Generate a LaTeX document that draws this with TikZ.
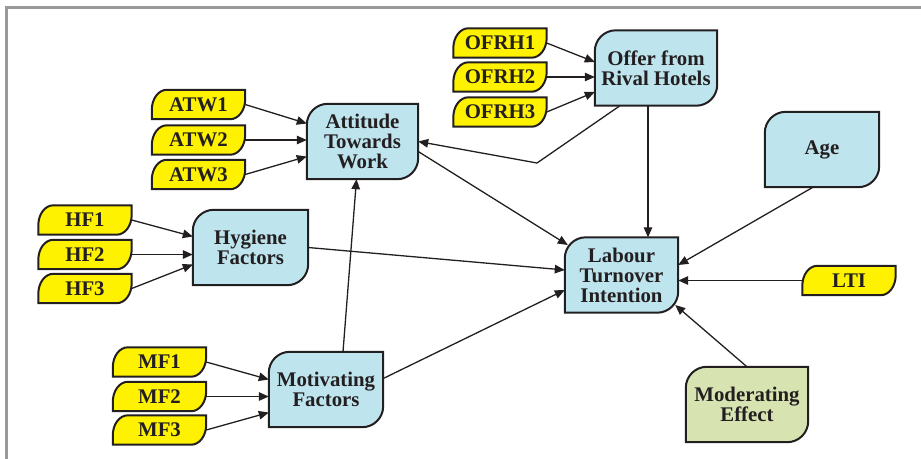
\documentclass[tikz,border=0pt]{standalone}
\usepackage{fontspec}
\setmainfont{Liberation Serif}
\usetikzlibrary{arrows.meta,backgrounds,calc}
\definecolor{txt}{HTML}{231F20}
\definecolor{blu}{HTML}{BEE4EE}
\definecolor{yel}{HTML}{FFF200}
\definecolor{grn}{HTML}{D7E4B1}
\definecolor{frm}{HTML}{999999}
\tikzset{
  base/.style={inner sep=0pt, align=center, text=txt,
    font=\fontsize{20.8}{20}\selectfont\bfseries},
  big/.style={base, minimum height=75pt, minimum width=#1},
  ind/.style={base, minimum height=29pt, minimum width=93pt},
  boxline/.style={draw=txt, line width=2pt},
  arr/.style={draw=txt, line width=1.3pt, -{Triangle[length=10pt,width=8.5pt]}},
  lin/.style={draw=txt, line width=1.3pt}
}
\begin{document}
\begin{tikzpicture}[x=1pt,y=-1pt]
\useasboundingbox (0,0) rectangle (921,458);
\draw[frm, line width=2.5pt] (6.5,460) -- (6.5,7.3) -- (923,7.3);

% latent constructs
\node[big=122pt] (offer) at (656,68) {Offer from\\Rival Hotels};
\node[big=111pt] (attitude) at (362.5,141.5) {Attitude\\Towards\\Work};
\node[big=115pt] (hygiene) at (250.5,247.5) {Hygiene\\Factors};
\node[big=114pt] (motivating) at (326,389.5) {Motivating\\Factors};
\node[big=113pt] (labour) at (621.5,275) {Labour\\Turnover\\Intention};
\node[big=114pt] (age) at (822,149.5) {Age};
\node[big=122pt] (moderating) at (747,404.5) {Moderating\\Effect};

% indicators
\node[ind] (ofrh1) at (500,43) {OFRH1};
\node[ind] (ofrh2) at (500,77) {OFRH2};
\node[ind] (ofrh3) at (500,112) {OFRH3};
\node[ind] (atw1) at (198.5,104.5) {ATW1};
\node[ind] (atw2) at (198.5,140) {ATW2};
\node[ind] (atw3) at (198.5,174.5) {ATW3};
\node[ind] (hf1) at (85,220) {HF1};
\node[ind] (hf2) at (85,254.5) {HF2};
\node[ind] (hf3) at (85,288.5) {HF3};
\node[ind] (mf1) at (159.5,362) {MF1};
\node[ind] (mf2) at (159.5,396.5) {MF2};
\node[ind] (mf3) at (159.5,430) {MF3};
\node[ind] (lti) at (849,280.5) {LTI};

% shapes behind the texts
\begin{scope}[on background layer]
\foreach \n/\c in {offer/blu,attitude/blu,hygiene/blu,motivating/blu,labour/blu,age/blu,moderating/grn}
  \draw[boxline, fill=\c] (\n.south west) -- ([yshift=-21pt]\n.north west)
    arc[start angle=180,end angle=90,radius=21pt] -- (\n.north east)
    -- ([yshift=21pt]\n.south east)
    arc[start angle=0,end angle=-90,radius=21pt] -- cycle;
\foreach \n in {ofrh1,ofrh2,ofrh3,atw1,atw2,atw3,hf1,hf2,hf3,mf1,mf2,mf3,lti}
  \draw[boxline, fill=yel] (\n.south west) -- ([yshift=-20pt]\n.north west)
    arc[start angle=180,end angle=90,x radius=15pt,y radius=20pt] -- (\n.north east)
    -- ([yshift=20pt]\n.south east)
    arc[start angle=0,end angle=-90,x radius=15pt,y radius=20pt] -- cycle;
\end{scope}

% indicator arrows
\draw[arr] (ofrh1.east) -- ([yshift=6pt]offer.west);
\draw[arr] (ofrh2.east) -- (ofrh2.east -| offer.west);
\draw[arr] (ofrh3.east) -- ([yshift=-24pt]offer.west);
\draw[arr] (atw1.east) -- ([yshift=18pt]attitude.west);
\draw[arr] (atw2.east) -- (atw2.east -| attitude.west);
\draw[arr] (atw3.east) -- ([yshift=-15pt]attitude.west);
\draw[arr] (hf1.east) -- ([yshift=11pt]hygiene.west);
\draw[arr] (hf2.east) -- (hf2.east -| hygiene.west);
\draw[arr] (hf3.east) -- ([yshift=-17pt]hygiene.west);
\draw[arr] (mf1.east) -- ([yshift=10pt]motivating.west);
\draw[arr] (mf2.east) -- (mf2.east -| motivating.west);
\draw[arr] (mf3.east) -- ([yshift=-23pt]motivating.west);

% structural paths
\draw[arr] ([xshift=-8pt]offer.south) -- ([xshift=-8pt]offer.south |- labour.north);
\coordinate (bend) at (537,163);
\draw[lin] ([xshift=-36pt]offer.south) -- (bend);
\draw[arr] (bend) -- (attitude.east);
\draw[arr] ([yshift=-10pt]attitude.east) -- ([xshift=3pt,yshift=30pt]labour.west);
\draw[arr] (hygiene.east) -- ([yshift=5pt]labour.west);
\draw[arr] ([yshift=11pt]motivating.east) -- ([yshift=-15pt]labour.west);
\draw[arr] ([xshift=17pt]motivating.north) -- ([xshift=-6pt]attitude.south);
\draw[arr] ([xshift=-9pt]age.south) -- ([yshift=10pt]labour.east);
\draw[arr] (lti.west) -- (lti.west -| labour.east);
\draw[arr] (moderating.north) -- ([xshift=-3pt,yshift=-30pt]labour.east);
\end{tikzpicture}
\end{document}
